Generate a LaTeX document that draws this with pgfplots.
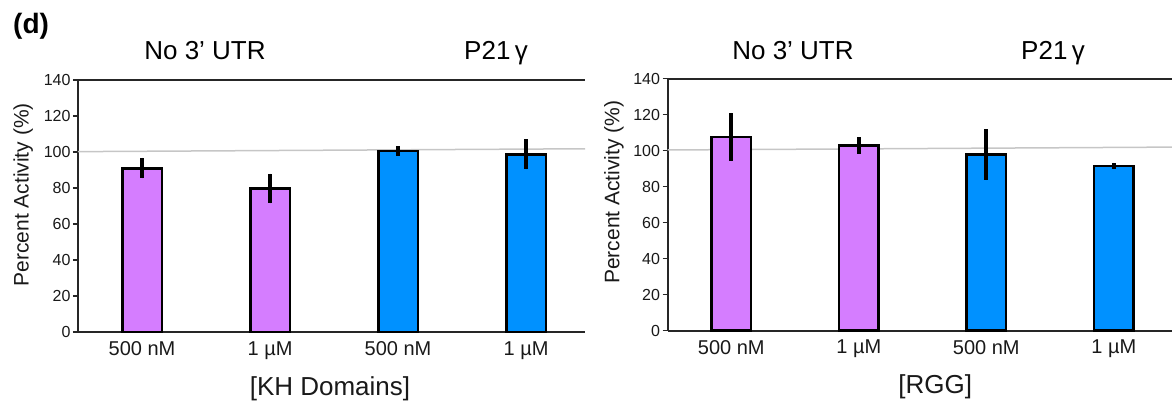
\documentclass[border=0pt]{standalone}
\usepackage{fontspec}
\setmainfont{Liberation Sans}
\usepackage{pgfplots}
\usepackage{pgfplotstable}
\pgfplotsset{compat=1.18}
\definecolor{vio}{RGB}{213,125,255}
\definecolor{blu}{RGB}{0,145,255}

\pgfplotstableread{
x y e
0 91.0 5.7
1 79.7 8.3
}\KHno
\pgfplotstableread{
x y e
2 100.6 2.7
3 98.7 8.3
}\KHp
\pgfplotstableread{
x y e
0 107.6 13.4
1 103.0 4.6
}\RGGno
\pgfplotstableread{
x y e
2 97.8 14.2
3 91.5 1.7
}\RGGp

\pgfplotsset{
  panel/.style={
    scale only axis, width=507bp, height=252bp,
    xmin=-0.5, xmax=3.46, ymin=0, ymax=140,
    ytick={0,20,...,140}, xtick={0,1,2,3},
    xticklabels={500 nM, 1 µM, 500 nM, 1 µM},
    axis x line*=box, axis y line*=left,
    axis line style={line width=2bp, black!85, -},
    x tick style={draw=none},
    y tick style={line width=1.5bp, black!85},
    tick align=outside, major tick length=5bp,
    /pgf/number format/assume math mode=true,
    yticklabel style={font=\fontsize{16bp}{16bp}\selectfont, text=black!90, xshift=1bp},
    xticklabel style={font=\fontsize{20bp}{20bp}\selectfont, text=black!90, yshift=-1bp},
    xlabel style={font=\fontsize{26bp}{26bp}\selectfont, text=black!90, anchor=base},
    ylabel style={font=\fontsize{21bp}{21bp}\selectfont, text=black!90, anchor=center, rotate=0},
    clip=false,
  },
  barv/.style={ybar, bar shift=0pt, bar width=0.31, fill=vio, draw=black, line width=2.7bp,
    error bars/.cd, y dir=both, y explicit, error mark=none,
    error bar style={line width=3.8bp, black}},
  barb/.style={ybar, bar shift=0pt, bar width=0.31, fill=blu, draw=black, line width=2.7bp,
    error bars/.cd, y dir=both, y explicit, error mark=none,
    error bar style={line width=3.8bp, black}},
}

\begin{document}
\begin{tikzpicture}
\path[use as bounding box] (0,0) rectangle (1172bp,-412bp);

\node[anchor=base west, inner sep=0pt, font=\bfseries\fontsize{28bp}{28bp}\selectfont] at (13bp,-33bp) {(d)};
\node[anchor=base, font=\fontsize{26bp}{26bp}\selectfont] at (205bp,-59bp) {No 3’ UTR};
\node[anchor=base, font=\fontsize{26bp}{26bp}\selectfont] at (496bp,-59bp) {P21\,γ};
\node[anchor=base, font=\fontsize{26bp}{26bp}\selectfont] at (793bp,-59bp) {No 3’ UTR};
\node[anchor=base, font=\fontsize{26bp}{26bp}\selectfont] at (1053bp,-59bp) {P21\,γ};

\begin{axis}[panel, at={(78bp,-332bp)}, anchor=south west,
  xlabel={[KH Domains]},
  xlabel style={at={(axis description cs:0.497,0)}, yshift=-63bp},
  ylabel={Percent Activity (\%)},
  ylabel style={at={(axis description cs:-0.108,0.544)}}]
\addplot[sharp plot, no marks, draw=gray!45, line width=1.5bp] coordinates {(-0.5,100.2) (3.46,101.8)};
\addplot[barv] table[x=x, y=y, y error=e] {\KHno};
\addplot[barb] table[x=x, y=y, y error=e] {\KHp};
\end{axis}

\begin{axis}[panel, at={(667.5bp,-330.7bp)}, anchor=south west, width=505bp,
  xlabel={[RGG]},
  xlabel style={at={(axis description cs:0.53,0)}, yshift=-63bp},
  ylabel={Percent Activity (\%)},
  ylabel style={at={(axis description cs:-0.106,0.55)}}]
\addplot[sharp plot, no marks, draw=gray!45, line width=1.5bp] coordinates {(-0.5,100.4) (3.46,102)};
\addplot[barv] table[x=x, y=y, y error=e] {\RGGno};
\addplot[barb] table[x=x, y=y, y error=e] {\RGGp};
\end{axis}
\end{tikzpicture}
\end{document}
